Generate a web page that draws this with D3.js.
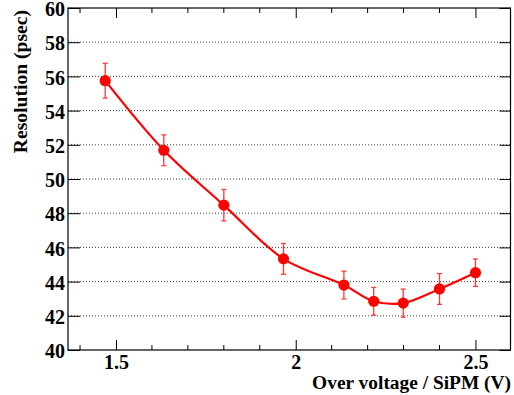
<!DOCTYPE html>
<html>
<head>
<meta charset="utf-8">
<script src="https://cdn.jsdelivr.net/npm/d3@7"></script>
<style>
  html, body { margin: 0; padding: 0; background: #fff; }
  svg { display: block; }
  text { font-family: "Liberation Serif", "Times New Roman", serif; font-weight: bold; fill: #000; }
</style>
</head>
<body>
<svg id="chart" width="514" height="395"></svg>
<script>
// Over-voltage scan: timing resolution vs. SiPM over voltage
const overVoltage = [1.47, 1.633, 1.80, 1.966, 2.134, 2.217, 2.299, 2.40, 2.50];
const resolution  = [55.75, 51.68, 48.47, 45.33, 43.80, 42.85, 42.74, 43.57, 44.52];
const resError    = [1.02, 0.90, 0.92, 0.90, 0.81, 0.81, 0.82, 0.90, 0.80];

const xTickValues = [1.5, 2, 2.5];
const xTickLabels = ["1.5", "2", "2.5"];
const yTickValues = [40, 42, 44, 46, 48, 50, 52, 54, 56, 58, 60];
const xTitle = "Over voltage / SiPM (V)";
const yTitle = "Resolution (psec)";

const svg = d3.select("#chart");
const frame = { left: 68, right: 510.5, top: 8, bottom: 350 };

const x = d3.scaleLinear().domain([1.3665, 2.5975]).range([frame.left, frame.right]);
const y = d3.scaleLinear().domain([40, 60]).range([frame.bottom, frame.top]);

// horizontal dotted grid
svg.append("g").selectAll("line")
  .data(yTickValues.filter(v => v > 40 && v < 60))
  .join("line")
  .attr("x1", frame.left).attr("x2", frame.right)
  .attr("y1", d => y(d)).attr("y2", d => y(d))
  .attr("stroke", "#444").attr("stroke-width", 1)
  .attr("stroke-dasharray", "1,2");

// axes: bottom / top with minor ticks, left / right with major ticks
const minorX = d3.range(14, 26).map(v => v / 10).filter(v => !xTickValues.some(t => Math.abs(t - v) < 1e-9));

function styleAxis(g) {
  g.select(".domain").remove();
  g.selectAll("line").attr("stroke", "#000").attr("stroke-width", 1);
}

const axisBottomG = svg.append("g").attr("transform", `translate(0,${frame.bottom})`);
axisBottomG.call(d3.axisBottom(x).tickValues(xTickValues).tickFormat((d, i) => xTickLabels[i]).tickSizeInner(-10).tickSizeOuter(0))
  .call(styleAxis);
axisBottomG.selectAll("text").attr("font-size", 20).attr("y", 18.5).attr("dy", 0)
  .style("font-family", '"Liberation Serif", serif').style("font-weight", "bold").attr("fill", "#000");
axisBottomG.append("g").selectAll("line").data(minorX).join("line")
  .attr("x1", d => x(d)).attr("x2", d => x(d)).attr("y1", 0).attr("y2", -5)
  .attr("stroke", "#000");

const axisTopG = svg.append("g").attr("transform", `translate(0,${frame.top})`);
axisTopG.call(d3.axisTop(x).tickValues(xTickValues).tickFormat("").tickSizeInner(-10).tickSizeOuter(0))
  .call(styleAxis);
axisTopG.append("g").selectAll("line").data(minorX).join("line")
  .attr("x1", d => x(d)).attr("x2", d => x(d)).attr("y1", 0).attr("y2", 5)
  .attr("stroke", "#000");

const axisLeftG = svg.append("g").attr("transform", `translate(${frame.left},0)`);
axisLeftG.call(d3.axisLeft(y).tickValues(yTickValues).tickFormat(d3.format("d")).tickSizeInner(-12).tickSizeOuter(0))
  .call(styleAxis);
axisLeftG.selectAll("text").attr("font-size", 20).attr("x", -3).attr("dy", "0.38em")
  .style("font-family", '"Liberation Serif", serif').style("font-weight", "bold").attr("fill", "#000");

const axisRightG = svg.append("g").attr("transform", `translate(${frame.right},0)`);
axisRightG.call(d3.axisRight(y).tickValues(yTickValues).tickFormat("").tickSizeInner(-11).tickSizeOuter(0))
  .call(styleAxis);

// frame
svg.append("rect")
  .attr("x", frame.left).attr("y", frame.top)
  .attr("width", frame.right - frame.left).attr("height", frame.bottom - frame.top)
  .attr("fill", "none").attr("stroke", "#000").attr("stroke-width", 1.2);

// titles
svg.append("text")
  .attr("x", 511).attr("y", 389)
  .attr("text-anchor", "end").attr("font-size", 19.4)
  .text(xTitle);

svg.append("text")
  .attr("transform", "translate(27,10) rotate(-90)")
  .attr("text-anchor", "end").attr("font-size", 19.6)
  .text(yTitle);

// data
const pts = overVoltage.map((v, i) => ({ x: v, y: resolution[i], e: resError[i] }));

const errG = svg.append("g").attr("stroke", "#ff3838").attr("stroke-width", 1.3);
errG.selectAll("line.bar").data(pts).join("line").attr("class", "bar")
  .attr("x1", d => x(d.x)).attr("x2", d => x(d.x))
  .attr("y1", d => y(d.y + d.e)).attr("y2", d => y(d.y - d.e));
errG.selectAll("line.capT").data(pts).join("line").attr("class", "capT")
  .attr("x1", d => x(d.x) - 2.5).attr("x2", d => x(d.x) + 2.5)
  .attr("y1", d => y(d.y + d.e)).attr("y2", d => y(d.y + d.e));
errG.selectAll("line.capB").data(pts).join("line").attr("class", "capB")
  .attr("x1", d => x(d.x) - 2.5).attr("x2", d => x(d.x) + 2.5)
  .attr("y1", d => y(d.y - d.e)).attr("y2", d => y(d.y - d.e));

const line = d3.line().x(d => x(d.x)).y(d => y(d.y)).curve(d3.curveCatmullRom.alpha(0.5));
svg.append("path").datum(pts)
  .attr("d", line).attr("fill", "none")
  .attr("stroke", "#ff0000").attr("stroke-width", 2.2);

svg.append("g").selectAll("circle").data(pts).join("circle")
  .attr("cx", d => x(d.x)).attr("cy", d => y(d.y)).attr("r", 5.6)
  .attr("fill", "#ff0000");
</script>
</body>
</html>
